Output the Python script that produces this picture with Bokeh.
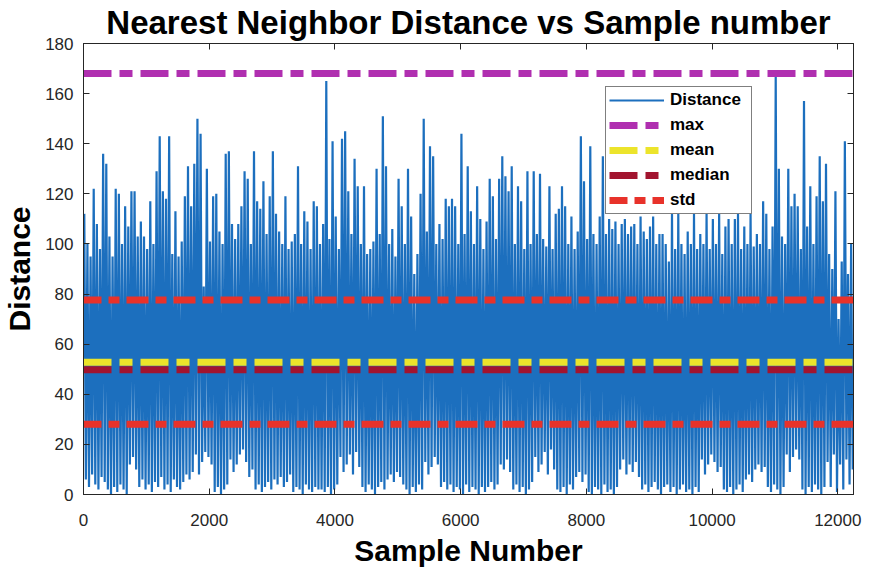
from bokeh.plotting import figure
from bokeh.models import Range1d, LinearAxis, FixedTicker, Legend, LegendItem
from bokeh.embed import file_html
from bokeh.resources import INLINE

# Nearest-neighbour distance per sample, summarised per block of 50 samples:
# the highest and the lowest distance found inside each block.
block_size = 50
block_max = [
    112, 100, 95, 122, 108, 98, 136, 132, 103, 95,
    122, 120, 100, 115, 107, 121, 121, 103, 109, 103,
    98, 117, 100, 129, 143, 121, 118, 143, 96, 113,
    95, 101, 119, 131, 115, 132, 150, 144, 83, 130,
    101, 119, 120, 105, 100, 136, 137, 108, 102, 108,
    115, 129, 126, 100, 137, 117, 114, 125, 104, 119,
    137, 112, 105, 100, 119, 98, 101, 104, 131, 100,
    113, 109, 98, 117, 115, 100, 108, 165, 102, 141,
    111, 98, 142, 145, 121, 104, 134, 123, 100, 123,
    96, 98, 101, 130, 104, 151, 131, 100, 106, 95,
    126, 115, 100, 130, 111, 88, 96, 120, 150, 105,
    139, 135, 100, 108, 102, 118, 115, 118, 115, 100,
    144, 104, 131, 113, 100, 123, 110, 98, 109, 126,
    119, 102, 126, 135, 127, 121, 131, 100, 123, 117,
    98, 129, 100, 129, 104, 128, 102, 99, 123, 98,
    112, 114, 123, 115, 100, 111, 98, 105, 143, 125,
    102, 139, 104, 100, 111, 135, 104, 110, 106, 109,
    100, 108, 110, 104, 107, 108, 100, 111, 105, 102,
    107, 111, 100, 104, 104, 100, 93, 112, 98, 112,
    100, 96, 105, 100, 112, 98, 104, 100, 112, 98,
    110, 100, 112, 96, 107, 110, 100, 110, 112, 98,
    107, 100, 112, 99, 104, 100, 117, 112, 98, 107,
    168, 130, 103, 100, 130, 115, 120, 115, 98, 157,
    107, 123, 100, 119, 135, 117, 132, 96, 90, 121,
    70, 93, 141, 88, 100,
]
block_min = [
    6, 3, 8, 4, 2, 7, 5, 2, 0, 3,
    1, 4, 2, 0, 12, 15, 10, 3, 6, 2,
    4, 1, 5, 3, 7, 2, 4, 1, 6, 3,
    2, 5, 8, 6, 9, 16, 8, 13, 17, 15,
    12, 1, 3, 0, 2, 4, 14, 9, 12, 16,
    18, 13, 7, 10, 2, 4, 1, 3, 5, 2,
    6, 4, 7, 3, 5, 8, 1, 3, 2, 0,
    4, 2, 1, 3, 2, 2, 1, 3, 0, 2,
    4, 15, 9, 12, 16, 8, 17, 11, 3, 1,
    4, 2, 0, 3, 5, 2, 6, 8, 5, 9,
    7, 4, 2, 0, 3, 1, 4, 2, 13, 8,
    11, 15, 12, 3, 5, 2, 4, 1, 3, 2,
    0, 4, 1, 3, 2, 0, 3, 1, 3, 5,
    2, 4, 12, 10, 14, 9, 2, 4, 1, 3,
    0, 2, 5, 15, 9, 12, 17, 8, 18, 10,
    2, 1, 3, 0, 4, 2, 7, 9, 5, 8,
    1, 0, 3, 2, 0, 4, 1, 2, 0, 3,
    10, 14, 8, 12, 9, 13, 7, 2, 4, 1,
    3, 5, 2, 0, 3, 4, 1, 3, 0, 2,
    4, 1, 2, 0, 3, 1, 14, 8, 12, 16,
    13, 9, 11, 2, 1, 3, 0, 2, 4, 1,
    6, 8, 5, 10, 12, 9, 11, 3, 1, 4,
    2, 0, 3, 16, 9, 15, 18, 14, 2, 0,
    3, 1, 4, 2, 0, 3, 13, 3, 16, 1,
    12, 2, 14, 4, 10,
]

# Summary statistics of the distance series
mean_dist = 52.8
median_dist = 49.8
std_dist = 24.8

x_ticks = [0, 2000, 4000, 6000, 8000, 10000, 12000]
y_ticks = [0, 20, 40, 60, 80, 100, 120, 140, 160, 180]

n_samples = block_size * len(block_max)
max_dist = max(block_max)

# Trace: the block maximum and minimum, alternately, across each block
xs, ys = [], []
for i, (hi, lo) in enumerate(zip(block_max, block_min)):
    xs += [i * block_size + 0.25 * block_size, i * block_size + 0.75 * block_size]
    ys += [hi, lo]

FONT = "Liberation Sans"
INK = "#262626"

p = figure(width=871, height=571, output_backend="svg", toolbar_location=None,
           x_range=Range1d(0, n_samples), y_range=Range1d(0, 180),
           min_border_left=83, min_border_right=18, min_border_top=43,
           min_border_bottom=77)
p.title.visible = False
p.grid.visible = False
p.background_fill_color = "white"
p.border_fill_color = "white"
p.outline_line_color = INK

for ax in (p.xaxis[0], p.yaxis[0]):
    ax.major_tick_in = 6
    ax.major_tick_out = 0
    ax.minor_tick_line_color = None
    ax.axis_line_color = INK
    ax.major_tick_line_color = INK
    ax.major_label_text_font = FONT
    ax.major_label_text_font_size = "17px"
    ax.major_label_text_color = INK
    ax.axis_label_text_font = FONT
    ax.axis_label_text_font_size = "30px"
    ax.axis_label_text_font_style = "bold"
    ax.axis_label_text_color = "black"

p.xaxis[0].ticker = FixedTicker(ticks=x_ticks)
p.yaxis[0].ticker = FixedTicker(ticks=y_ticks)
p.xaxis[0].axis_label = "Sample Number"
p.yaxis[0].axis_label = "Distance"
p.xaxis[0].major_label_standoff = 19
p.yaxis[0].major_label_standoff = 10
p.xaxis[0].axis_label_standoff = 5
p.yaxis[0].axis_label_standoff = 6

# Box: tick marks on the top and right edges too; the top edge carries the title
top_ax = LinearAxis(ticker=FixedTicker(ticks=x_ticks))
right_ax = LinearAxis(ticker=FixedTicker(ticks=y_ticks))
for ax in (top_ax, right_ax):
    ax.major_tick_in = 6
    ax.major_tick_out = 0
    ax.minor_tick_line_color = None
    ax.axis_line_color = INK
    ax.major_tick_line_color = INK
    ax.major_label_text_font_size = "1px"
    ax.major_label_text_color = None
    ax.major_label_standoff = 0
top_ax.axis_label = "Nearest Neighbor Distance vs Sample number"
top_ax.axis_label_text_font = FONT
top_ax.axis_label_text_font_size = "33px"
top_ax.axis_label_text_font_style = "bold"
top_ax.axis_label_text_color = "black"
top_ax.axis_label_standoff = 3
p.add_layout(top_ax, "above")
p.add_layout(right_ax, "right")

r_dist = p.line(xs, ys, line_color="#1C6FBE", line_width=2.2)

span_x = [0, n_samples]
r_max = p.line(span_x, [max_dist, max_dist], line_color="#B02FB0", line_width=7,
               line_dash="28 8 13 8")
r_mean = p.line(span_x, [mean_dist, mean_dist], line_color="#ECE42B", line_width=7,
                line_dash="28 8 13 8")
r_median = p.line(span_x, [median_dist, median_dist], line_color="#A2142F",
                  line_width=7, line_dash="28 8 13 8")
r_std_hi = p.line(span_x, [mean_dist + std_dist] * 2, line_color="#E8322A",
                  line_width=7, line_dash="22 7 11 7", line_dash_offset=4)
r_std_lo = p.line(span_x, [mean_dist - std_dist] * 2, line_color="#E8322A",
                  line_width=7, line_dash="22 7 11 7", line_dash_offset=4)

legend = Legend(items=[
    LegendItem(label="Distance", renderers=[r_dist]),
    LegendItem(label="max", renderers=[r_max]),
    LegendItem(label="mean", renderers=[r_mean]),
    LegendItem(label="median", renderers=[r_median]),
    LegendItem(label="std", renderers=[r_std_hi]),
], location=(522, 280))
legend.label_text_font = FONT
legend.label_text_font_size = "17px"
legend.label_text_font_style = "bold"
legend.label_text_color = "black"
legend.glyph_width = 55
legend.glyph_height = 20
legend.spacing = 5
legend.padding = 3
legend.margin = 0
legend.label_standoff = 6
legend.label_width = 78
legend.border_line_color = "black"
legend.border_line_width = 1
legend.background_fill_color = "white"
legend.background_fill_alpha = 1.0
p.add_layout(legend)

open("out.html", "w").write(file_html(p, INLINE))
